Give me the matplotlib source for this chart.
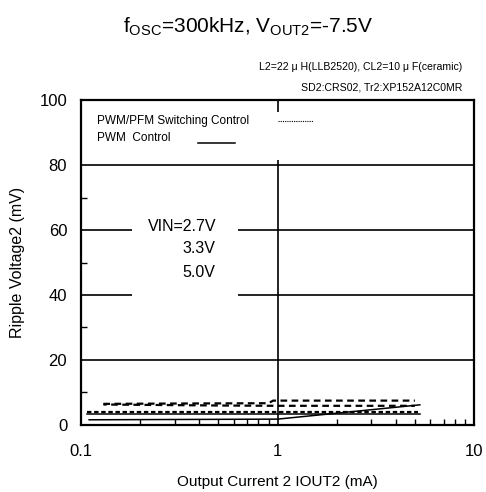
import matplotlib.pyplot as plt
from matplotlib.ticker import FixedLocator, NullFormatter
from matplotlib.patches import Rectangle

plt.rcParams['font.family'] = ['Liberation Sans', 'DejaVu Sans']
plt.rcParams['mathtext.default'] = 'regular'

# PWM/PFM switching control (dashed), VIN = 2.7V / 3.3V / 5.0V
pfm_27_x = [0.13, 0.3, 0.9, 0.95, 5.0]
pfm_27_y = [6.5, 6.6, 6.7, 7.5, 7.5]
pfm_33_x = [0.13, 0.5, 1.0, 5.0]
pfm_33_y = [6.3, 6.0, 5.9, 5.9]
pfm_50_x = [0.107, 5.2]
pfm_50_y = [4.1, 4.1]

# PWM control (solid)
pwm_a_x = [0.107, 5.3]
pwm_a_y = [3.3, 3.3]
pwm_b_x = [0.11, 1.0, 5.3]
pwm_b_y = [1.6, 1.8, 6.2]

y_ticks = [0, 20, 40, 60, 80, 100]
x_ticks = [0.1, 1, 10]
x_tick_labels = ["0.1", "1", "10"]

fig = plt.figure(figsize=(4.86, 4.92), dpi=100)
ax = fig.add_axes([0.1667, 0.1362, 0.8086, 0.6605])

ax.set_xscale('log')
ax.set_xlim(0.1, 10)
ax.set_ylim(0, 100)

# grid lines
for yy in [20, 40, 60, 80]:
    ax.axhline(yy, color='black', lw=1.2, zorder=1)
ax.axvline(1, color='black', lw=1.2, zorder=1)

# white boxes that cut the grid
ax.add_patch(Rectangle((0.1, 81.5), 1.5, 14.8, facecolor='white', edgecolor='none', zorder=2))
ax.add_patch(Rectangle((0.181, 38.5), 0.45, 24, facecolor='white', edgecolor='none', zorder=2))

dash = (0, (3, 2))
ax.plot(pfm_27_x, pfm_27_y, color='black', lw=1.6, ls=dash, zorder=3)
ax.plot(pfm_33_x, pfm_33_y, color='black', lw=1.6, ls=(1.5, (3, 2)), zorder=3)
ax.plot(pfm_50_x, pfm_50_y, color='black', lw=1.6, ls=(0, (2, 1.2)), zorder=3)
ax.plot(pwm_a_x, pwm_a_y, color='black', lw=1.1, zorder=3)
ax.plot(pwm_b_x, pwm_b_y, color='black', lw=1.1, zorder=3)

# legend drawn by hand
ax.text(0.12, 93.5, "PWM/PFM Switching Control", fontsize=8.5, va='center', ha='left', zorder=4)
ax.text(0.12, 88.2, "PWM  Control", fontsize=8.5, va='center', ha='left', zorder=4)
ax.plot([1.0, 1.52], [93.5, 93.5], color='black', lw=0.8, ls=(0, (1, 1)), zorder=4)
ax.plot([0.394, 0.608], [86.9, 86.9], color='black', lw=1.1, zorder=4)

ax.text(0.219, 61.2, "VIN=2.7V", fontsize=11.5, va='center', ha='left', zorder=4)
ax.text(0.327, 54.3, "3.3V", fontsize=11.5, va='center', ha='left', zorder=4)
ax.text(0.327, 46.8, "5.0V", fontsize=11.5, va='center', ha='left', zorder=4)

ax.yaxis.set_major_locator(FixedLocator(y_ticks))
ax.yaxis.set_minor_locator(FixedLocator([10, 30, 50, 70, 90]))
ax.set_xticks(x_ticks)
ax.set_xticklabels(x_tick_labels)
ax.xaxis.set_minor_formatter(NullFormatter())
ax.tick_params(axis='both', which='both', direction='in', top=False, right=False)
ax.tick_params(axis='both', which='major', length=0, labelsize=12)
ax.tick_params(axis='y', which='major', pad=10)
ax.tick_params(axis='x', which='major', pad=14)
ax.tick_params(axis='both', which='minor', length=4, width=1)

for s in ax.spines.values():
    s.set_linewidth(1.6)

ax.set_xlabel("Output Current 2 IOUT2 (mA)", fontsize=11, labelpad=11)
ax.set_ylabel("Ripple Voltage2 (mV)", fontsize=11.5, labelpad=10)

fig.text(0.51, 0.945, r"f$_{OSC}$=300kHz, V$_{OUT2}$=-7.5V", fontsize=15, ha='center', va='center')
fig.text(0.952, 0.863, "L2=22 \u03bc H(LLB2520), CL2=10 \u03bc F(ceramic)", fontsize=7.6, ha='right', va='center')
fig.text(0.952, 0.823, "SD2:CRS02, Tr2:XP152A12C0MR", fontsize=7.6, ha='right', va='center')

fig.savefig("out.png", dpi=100)
